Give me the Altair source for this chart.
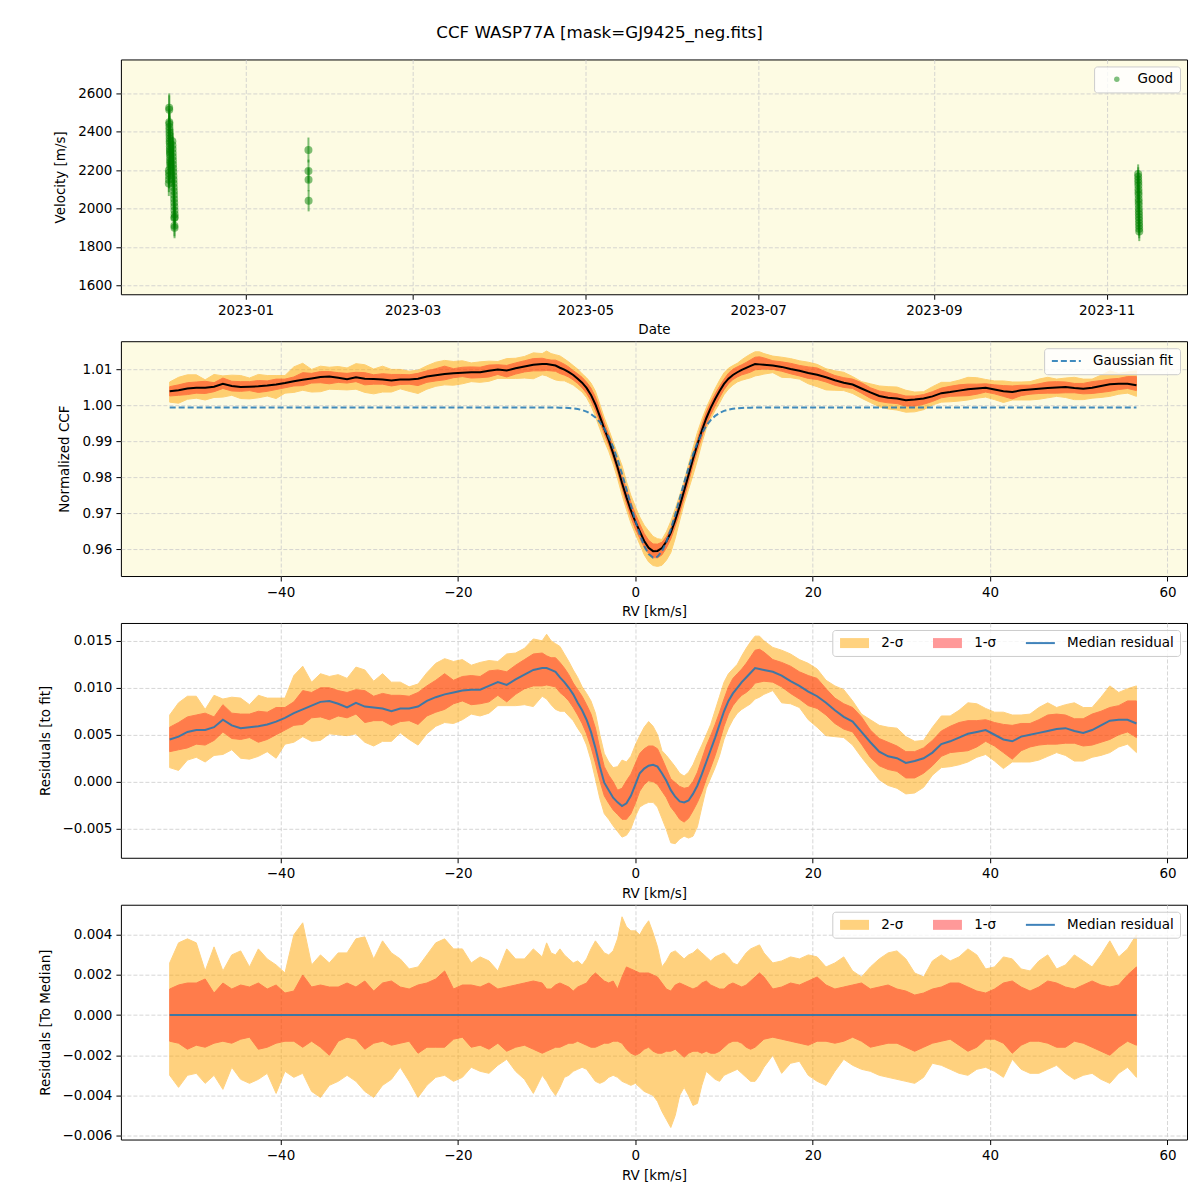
import altair as alt
import pandas as pd

FONT = "DejaVu Sans"

# ---------------- RV grid (km/s) ----------------
rv_left = [-52.5, -51.5, -50.5, -49.5, -48.5, -47.5, -46.5, -45.5, -44.5, -43.5,
           -42.5, -41.5, -40.5, -39.5, -38.5, -37.5, -36.5, -35.5, -34.5, -33.5,
           -32.5, -31.5, -30.5, -29.5, -28.5, -27.5, -26.5, -25.5, -24.5, -23.5,
           -22.5, -21.5, -20.5, -19.5, -18.5, -17.5, -16.5, -15.5, -14.5, -13.5,
           -12.5, -11.5, -10.5]
rv_dip = [-10, -9.5, -9, -8.5, -8, -7.5, -7, -6.5, -6, -5.5,
          -5, -4.5, -4, -3.5, -3, -2.5, -2, -1.5, -1, -0.5,
          0, 0.5, 1, 1.5, 2, 2.5, 3, 3.5, 4, 4.5,
          5, 5.5, 6, 6.5, 7, 7.5, 8, 8.5, 9, 9.5,
          10, 10.5, 11, 11.5, 12, 12.5, 13, 13.5, 14]
rv_right = [14.5, 15.5, 16.5, 17.5, 18.5, 19.5, 20.5, 21.5, 22.5, 23.5,
            24.5, 25.5, 26.5, 27.5, 28.5, 29.5, 30.5, 31.5, 32.5, 33.5,
            34.5, 35.5, 36.5, 37.5, 38.5, 39.5, 40.5, 41.5, 42.5, 43.5,
            44.5, 45.5, 46.5, 47.5, 48.5, 49.5, 50.5, 51.5, 52.5, 53.5,
            54.5, 55.5, 56.5]

# ---------------- median residual (CCF - fit) ----------------
res_left = [.0045, .0048, .0053, .0055, .0055, .0058, .0066, .0060, .0057, .0058,
            .0059, .0061, .0064, .0068, .0073, .0077, .0081, .0085, .0086, .0083,
            .0079, .0084, .0080, .0079, .0078, .0075, .0078, .0078, .0080, .0086,
            .0090, .0093, .0095, .0097, .0098, .0098, .0102, .0106, .0103, .0109,
            .0114, .0119, .0121]
res_dip = [.0121, .0119, .0117, .0111, .0106, .0100, .0093, .0084, .0076, .0066,
           .0053, .0036, .0016, -.0001, -.0009, -.0017, -.0022, -.0026, -.0023, -.0015,
           -.0003, .0009, .0014, .0017, .0018, .0016, .0009, .0001, -.0009, -.0016,
           -.0021, -.0022, -.0020, -.0013, -.0004, .0008, .0021, .0034, .0047, .0061,
           .0075, .0086, .0094, .0100, .0106, .0111, .0116, .0121, .0120]
res_right = [.0119, .0117, .0113, .0107, .0102, .0096, .0091, .0084, .0076, .0069,
             .0064, .0053, .0042, .0032, .0027, .0025, .0020, .0022, .0025, .0031,
             .0040, .0043, .0047, .0051, .0053, .0055, .0050, .0045, .0043, .0048,
             .0050, .0052, .0054, .0056, .0057, .0054, .0052, .0055, .0060, .0065,
             .0066, .0066, .0062]

# ---------------- Gaussian fit ----------------
fit_left = [.99936, .99936, .99936, .99936, .99936, .99936, .99936, .99936, .99936, .99936,
            .99936, .99936, .99936, .99936, .99936, .99936, .99936, .99936, .99936, .99936,
            .99936, .99936, .99936, .99936, .99936, .99936, .99936, .99936, .99936, .99936,
            .99936, .99936, .99936, .99936, .99936, .99936, .99936, .99936, .99936, .99936,
            .99936, .99936, .99936]
fit_dip = [.99936, .99935, .99934, .99932, .99929, .99922, .99912, .99894, .99866, .99822,
           .99756, .99661, .99528, .99350, .99119, .98832, .98488, .98095, .97667, .97223,
           .96791, .96401, .96083, .95863, .95762, .95787, .95938, .96199, .96550, .96961,
           .97401, .97841, .98257, .98632, .98954, .99218, .99428, .99587, .99703, .99786,
           .99842, .99879, .99902, .99917, .99925, .99930, .99933, .99935, .99936]
fit_right = [.99936, .99936, .99936, .99936, .99936, .99936, .99936, .99936, .99936, .99936,
             .99936, .99936, .99936, .99936, .99936, .99936, .99936, .99936, .99936, .99936,
             .99936, .99936, .99936, .99936, .99936, .99936, .99936, .99936, .99936, .99936,
             .99936, .99936, .99936, .99936, .99936, .99936, .99936, .99936, .99936, .99936,
             .99936, .99936, .99936]

# ---------------- band offsets relative to median (panel 4) ----------------
hi2_left = [.0026, .0036, .0038, .0036, .0022, .0034, .0022, .0030, .0032, .0024,
            .0033, .0028, .0025, .0021, .0040, .0046, .0025, .0030, .0026, .0031,
            .0031, .0038, .0039, .0028, .0037, .0031, .0028, .0023, .0024, .0030,
            .0036, .0038, .0033, .0033, .0026, .0029, .0027, .0022, .0033, .0028,
            .0028, .0033, .0029]
hi2_dip = [.0036, .0031, .0030, .0033, .0030, .0028, .0026, .0027, .0025, .0028,
           .0033, .0037, .0034, .0031, .0030, .0032, .0038, .0049, .0044, .0042,
           .0042, .0040, .0044, .0047, .0041, .0034, .0024, .0027, .0031, .0032,
           .0030, .0028, .0030, .0031, .0033, .0031, .0029, .0027, .0029, .0030,
           .0031, .0029, .0026, .0025, .0028, .0031, .0033, .0034, .0035]
hi2_right = [.0031, .0026, .0027, .0029, .0028, .0030, .0029, .0024, .0026, .0029,
             .0022, .0019, .0024, .0028, .0031, .0032, .0028, .0021, .0019, .0027,
             .0030, .0027, .0029, .0033, .0030, .0023, .0024, .0029, .0028, .0023,
             .0022, .0027, .0030, .0023, .0025, .0030, .0027, .0024, .0030, .0037,
             .0029, .0033, .0040]

hi1_left = [.0013, .0015, .0016, .0016, .0018, .0011, .0016, .0013, .0015, .0014,
            .0016, .0013, .0015, .0011, .0012, .0020, .0014, .0015, .0014, .0014,
            .0016, .0014, .0017, .0012, .0016, .0017, .0014, .0013, .0015, .0016,
            .0018, .0022, .0013, .0015, .0015, .0014, .0016, .0013, .0014, .0015,
            .0016, .0017, .0016]
hi1_dip = [.0013, .0013, .0015, .0016, .0015, .0014, .0012, .0014, .0015, .0016,
           .0019, .0021, .0019, .0017, .0016, .0017, .0013, .0019, .0024, .0023,
           .0022, .0021, .0021, .0021, .0020, .0019, .0016, .0013, .0012, .0015,
           .0016, .0015, .0014, .0013, .0014, .0016, .0017, .0015, .0014, .0013,
           .0013, .0015, .0016, .0015, .0014, .0015, .0017, .0019, .0021]
hi1_right = [.0019, .0013, .0014, .0016, .0015, .0017, .0019, .0015, .0013, .0014,
             .0015, .0016, .0013, .0014, .0015, .0013, .0012, .0010, .0011, .0013,
             .0014, .0016, .0016, .0014, .0012, .0011, .0013, .0016, .0017, .0014,
             .0012, .0014, .0017, .0016, .0014, .0013, .0015, .0017, .0015, .0014,
             .0015, .0020, .0024]

lo1_left = [-.0013, -.0014, -.0017, -.0015, -.0016, -.0014, -.0013, -.0014, -.0012, -.0011,
            -.0017, -.0016, -.0014, -.0013, -.0013, -.0016, -.0013, -.0016, -.0020, -.0013,
            -.0011, -.0012, -.0017, -.0014, -.0013, -.0015, -.0014, -.0013, -.0019, -.0016,
            -.0016, -.0016, -.0012, -.0011, -.0016, -.0015, -.0017, -.0014, -.0018, -.0016,
            -.0015, -.0017, -.0019]
lo1_dip = [-.0018, -.0017, -.0016, -.0016, -.0015, -.0014, -.0014, -.0013, -.0014, -.0015,
           -.0016, -.0016, -.0015, -.0014, -.0014, -.0013, -.0013, -.0014, -.0017, -.0019,
           -.0020, -.0019, -.0017, -.0016, -.0018, -.0019, -.0019, -.0018, -.0018, -.0017,
           -.0019, -.0021, -.0019, -.0018, -.0018, -.0019, -.0018, -.0019, -.0019, -.0018,
           -.0016, -.0014, -.0013, -.0013, -.0014, -.0016, -.0017, -.0016, -.0014]
lo1_right = [-.0012, -.0011, -.0012, -.0013, -.0014, -.0015, -.0013, -.0013, -.0014, -.0013,
             -.0011, -.0013, -.0016, -.0015, -.0014, -.0014, -.0016, -.0018, -.0016, -.0014,
             -.0013, -.0012, -.0015, -.0018, -.0016, -.0012, -.0012, -.0014, -.0019, -.0015,
             -.0013, -.0013, -.0014, -.0016, -.0016, -.0013, -.0014, -.0016, -.0018, -.0020,
             -.0016, -.0013, -.0015]

lo2_left = [-.0030, -.0036, -.0030, -.0029, -.0034, -.0030, -.0037, -.0026, -.0032, -.0034,
            -.0032, -.0029, -.0039, -.0028, -.0031, -.0029, -.0038, -.0041, -.0035, -.0033,
            -.0030, -.0033, -.0038, -.0041, -.0035, -.0032, -.0026, -.0033, -.0041, -.0035,
            -.0031, -.0030, -.0033, -.0031, -.0026, -.0028, -.0029, -.0025, -.0022, -.0028,
            -.0032, -.0039, -.0030]
lo2_dip = [-.0033, -.0037, -.0040, -.0036, -.0031, -.0030, -.0028, -.0027, -.0026, -.0027,
           -.0030, -.0033, -.0034, -.0033, -.0031, -.0030, -.0031, -.0033, -.0034, -.0035,
           -.0034, -.0036, -.0038, -.0039, -.0040, -.0043, -.0048, -.0052, -.0056, -.0050,
           -.0040, -.0036, -.0040, -.0045, -.0044, -.0035, -.0028, -.0030, -.0032, -.0033,
           -.0030, -.0029, -.0028, -.0027, -.0029, -.0031, -.0033, -.0033, -.0030]
lo2_right = [-.0026, -.0020, -.0029, -.0024, -.0023, -.0030, -.0033, -.0035, -.0028, -.0022,
             -.0025, -.0027, -.0028, -.0030, -.0031, -.0032, -.0033, -.0034, -.0031, -.0024,
             -.0025, -.0027, -.0029, -.0030, -.0027, -.0026, -.0028, -.0031, -.0022, -.0027,
             -.0029, -.0029, -.0027, -.0025, -.0029, -.0032, -.0030, -.0029, -.0032, -.0034,
             -.0029, -.0026, -.0031]

# ---------------- RV time series (panel 1) ----------------
obs_time = [
    "2022-12-05T01:00", "2022-12-05T01:30", "2022-12-05T02:00", "2022-12-05T02:30",
    "2022-12-05T03:00", "2022-12-05T03:30", "2022-12-05T04:00", "2022-12-05T04:30",
    "2022-12-05T05:00", "2022-12-05T05:30", "2022-12-05T06:00", "2022-12-05T06:30",
    "2022-12-05T07:00", "2022-12-05T07:30", "2022-12-05T08:00", "2022-12-05T08:30",
    "2022-12-05T09:00", "2022-12-05T09:30", "2022-12-05T10:00", "2022-12-05T10:30",
    "2022-12-05T11:00", "2022-12-04T23:00", "2022-12-04T23:30", "2022-12-05T00:00",
    "2022-12-04T22:30", "2022-12-04T22:00",
    "2022-12-06T04:00", "2022-12-06T05:00", "2022-12-06T06:00", "2022-12-06T07:00",
    "2022-12-06T08:00", "2022-12-06T09:00", "2022-12-06T10:00", "2022-12-06T11:00",
    "2022-12-06T12:00", "2022-12-06T13:00", "2022-12-06T14:00", "2022-12-06T15:00",
    "2022-12-06T16:00", "2022-12-06T17:00", "2022-12-06T18:00", "2022-12-06T19:00",
    "2022-12-06T20:00", "2022-12-06T21:00", "2022-12-06T22:00", "2022-12-06T23:00",
    "2022-12-07T00:00", "2022-12-06T20:30", "2022-12-06T21:30", "2022-12-06T22:30",
    "2023-01-23T05:00", "2023-01-23T05:30", "2023-01-23T06:00", "2023-01-23T06:30",
    "2023-11-12T03:00", "2023-11-12T03:30", "2023-11-12T04:00", "2023-11-12T04:30",
    "2023-11-12T05:00", "2023-11-12T05:30", "2023-11-12T06:00", "2023-11-12T06:30",
    "2023-11-12T07:00", "2023-11-12T07:30", "2023-11-12T08:00", "2023-11-12T08:30",
    "2023-11-12T09:00", "2023-11-12T09:30", "2023-11-12T10:00", "2023-11-12T10:30",
    "2023-11-12T11:00", "2023-11-12T11:30", "2023-11-12T12:00", "2023-11-12T12:30",
]
obs_vel = [
    2525, 2515, 2450, 2440, 2425, 2410, 2395, 2380, 2365, 2350, 2340, 2325, 2310,
    2300, 2290, 2280, 2265, 2250, 2240, 2230, 2215, 2200, 2185, 2170, 2150, 2130,
    2350, 2330, 2310, 2290, 2270, 2250, 2230, 2210, 2190, 2170, 2150, 2130, 2110,
    2090, 2070, 2050, 2030, 2010, 1990, 1970, 1955, 1950, 1910, 1900,
    2305, 2195, 2150, 2040,
    2180, 2165, 2150, 2135, 2120, 2100, 2085, 2070, 2050, 2035, 2020, 2000, 1985,
    1970, 1955, 1940, 1925, 1910, 1895, 1880,
]
obs_err = [
    75, 75, 70, 70, 70, 70, 65, 65, 65, 65, 65, 65, 65, 65, 65, 65, 65, 65, 65, 65,
    65, 65, 65, 65, 65, 65,
    65, 65, 65, 65, 65, 65, 65, 65, 65, 60, 60, 60, 60, 60, 60, 60, 60, 55, 55, 55,
    55, 55, 55, 55,
    65, 60, 60, 55,
    50, 50, 50, 50, 50, 50, 50, 50, 50, 50, 50, 50, 50, 50, 50, 50, 50, 50, 50, 50,
]

leg_names = ["2-σ", "1-σ", "Median residual"]
leg_colors = ["#FFD27F", "#FF9999", "#3F82BA"]
leg_shapes = ["M-2.9,-1L2.9,-1L2.9,1L-2.9,1Z",
              "M-2.9,-1L2.9,-1L2.9,1L-2.9,1Z",
              "M-2.9,-0.2L2.9,-0.2L2.9,0.2L-2.9,0.2Z"]

# ---------------- tables ----------------
rv = rv_left + rv_dip + rv_right
df = pd.DataFrame({
    "rv": rv,
    "res": res_left + res_dip + res_right,
    "fit": fit_left + fit_dip + fit_right,
    "u2": hi2_left + hi2_dip + hi2_right,
    "u1": hi1_left + hi1_dip + hi1_right,
    "l1": lo1_left + lo1_dip + lo1_right,
    "l2": lo2_left + lo2_dip + lo2_right,
})
df["ccf"] = df["fit"] + df["res"]
for base_col in ["ccf", "res"]:
    for o in ["u2", "u1", "l1", "l2"]:
        df[f"{base_col}_{o}"] = df[base_col] + df[o]
df["zero"] = df["res"] - df["res"]
df["lab"] = "Gaussian fit"

obs = pd.DataFrame({"t": obs_time, "v": obs_vel, "e": obs_err})
obs["lo"] = obs["v"] - obs["e"]
obs["hi"] = obs["v"] + obs["e"]
obs["status"] = "Good"

W, H = 1067, 235
BLUE = "#1f77b4"
FS = 13.5

# ---------------- panel 1 ----------------
xdate = alt.X(
    "t:T",
    scale=alt.Scale(domain=[alt.DateTime(year=2022, month=11, date=18),
                            alt.DateTime(year=2023, month=11, date=29, hours=9)]),
    axis=alt.Axis(values=[alt.DateTime(year=2023, month=m, date=1) for m in [1, 3, 5, 7, 9, 11]],
                  format="%Y-%m", title="Date"),
)
ys1 = alt.Scale(domain=[1553, 2777], nice=False, zero=False)
yax1 = alt.Axis(values=[1600, 1800, 2000, 2200, 2400, 2600], format="d", title="Velocity [m/s]")

p1_err = alt.Chart(obs).mark_rule(color="green", opacity=0.5, strokeWidth=2).encode(
    x=xdate, y=alt.Y("lo:Q", scale=ys1, axis=yax1), y2="hi:Q")
p1_pts = alt.Chart(obs).mark_circle(size=64, opacity=0.5).encode(
    x=xdate, y=alt.Y("v:Q", scale=ys1, axis=yax1),
    color=alt.Color("status:N", scale=alt.Scale(domain=["Good"], range=["green"]),
                    legend=alt.Legend(title=None, symbolType="circle", symbolSize=30,
                                      symbolOffset=10, labelOffset=14, symbolOpacity=0.5)))
p1 = alt.layer(p1_err, p1_pts).properties(width=W, height=H)

# ---------------- shared RV x ----------------
xs_rv = alt.Scale(domain=[-58.0, 62.2], nice=False, zero=False)
x_rv = alt.X("rv:Q", scale=xs_rv,
             axis=alt.Axis(values=[-40, -20, 0, 20, 40, 60], format="d", title="RV [km/s]"))

base = alt.Chart(df)

# ---------------- panel 2 ----------------
ys2 = alt.Scale(domain=[0.9525, 1.0178], nice=False, zero=False)
yax2 = alt.Axis(values=[0.96, 0.97, 0.98, 0.99, 1.00, 1.01], format=".2f", title="Normalized CCF")
p2_b2 = base.mark_area(color="orange", opacity=0.5, stroke="orange", strokeWidth=1).encode(
    x=x_rv, y=alt.Y("ccf_l2:Q", scale=ys2, axis=yax2), y2="ccf_u2:Q")
p2_b1 = base.mark_area(color="red", opacity=0.4, stroke="red", strokeWidth=1).encode(
    x=x_rv, y=alt.Y("ccf_l1:Q", scale=ys2, axis=yax2), y2="ccf_u1:Q")
p2_med = base.mark_line(color="black", strokeWidth=2).encode(
    x=x_rv, y=alt.Y("ccf:Q", scale=ys2, axis=yax2))
leg_fit = alt.Legend(title=None, symbolType="M-2.9,0L2.9,0", symbolSize=100, symbolStrokeWidth=2,
                     symbolOffset=9.5, labelOffset=20)
p2_fit = base.mark_line(strokeWidth=2, opacity=0.85).encode(
    x=x_rv, y=alt.Y("fit:Q", scale=ys2, axis=yax2),
    stroke=alt.Stroke("lab:N", scale=alt.Scale(domain=["Gaussian fit"], range=[BLUE]), legend=leg_fit),
    strokeDash=alt.StrokeDash("lab:N", scale=alt.Scale(domain=["Gaussian fit"], range=[[6, 3]]),
                              legend=leg_fit))
p2 = alt.layer(p2_b2, p2_b1, p2_med, p2_fit).properties(width=W, height=H)


def legend_carrier():
    lg = alt.Legend(title=None, direction="horizontal", columns=3, symbolSize=100,
                    symbolOffset=9.5, labelOffset=20, columnPadding=27, symbolOpacity=1,
                    symbolStrokeWidth=0)
    return alt.Chart(pd.DataFrame({"series": leg_names})).transform_filter("false").mark_point(
        filled=True, opacity=1).encode(
        color=alt.Color("series:N", scale=alt.Scale(domain=leg_names, range=leg_colors), legend=lg),
        shape=alt.Shape("series:N", scale=alt.Scale(domain=leg_names, range=leg_shapes), legend=lg))


# ---------------- panel 3 ----------------
ys3 = alt.Scale(domain=[-0.0081, 0.0169], nice=False, zero=False)
yax3 = alt.Axis(values=[-0.005, 0.0, 0.005, 0.010, 0.015], format=".3f", title="Residuals [to fit]")
p3 = alt.layer(
    base.mark_area(color="orange", opacity=0.5, stroke="orange", strokeWidth=1).encode(
        x=x_rv, y=alt.Y("res_l2:Q", scale=ys3, axis=yax3), y2="res_u2:Q"),
    base.mark_area(color="red", opacity=0.4, stroke="red", strokeWidth=1).encode(
        x=x_rv, y=alt.Y("res_l1:Q", scale=ys3, axis=yax3), y2="res_u1:Q"),
    base.mark_line(color=BLUE, strokeWidth=2, opacity=0.85).encode(
        x=x_rv, y=alt.Y("res:Q", scale=ys3, axis=yax3)),
    legend_carrier(),
).properties(width=W, height=H)

# ---------------- panel 4 ----------------
ys4 = alt.Scale(domain=[-0.0062, 0.0055], nice=False, zero=False)
yax4 = alt.Axis(values=[-0.006, -0.004, -0.002, 0.0, 0.002, 0.004], format=".3f",
                title="Residuals [To Median]")
p4 = alt.layer(
    base.mark_area(color="orange", opacity=0.5, stroke="orange", strokeWidth=1).encode(
        x=x_rv, y=alt.Y("l2:Q", scale=ys4, axis=yax4), y2="u2:Q"),
    base.mark_area(color="red", opacity=0.4, stroke="red", strokeWidth=1).encode(
        x=x_rv, y=alt.Y("l1:Q", scale=ys4, axis=yax4), y2="u1:Q"),
    base.mark_line(color=BLUE, strokeWidth=2, opacity=0.85).encode(
        x=x_rv, y=alt.Y("zero:Q", scale=ys4, axis=yax4)),
    legend_carrier(),
).properties(width=W, height=H)

chart = alt.vconcat(p1, p2, p3, p4, spacing=3).resolve_scale(
    color="independent", shape="independent", stroke="independent", strokeDash="independent"
).resolve_legend(
    color="independent", shape="independent", stroke="independent", strokeDash="independent"
).properties(
    title=alt.TitleParams(text="CCF WASP77A [mask=GJ9425_neg.fits]", fontSize=16.7, font=FONT,
                          fontWeight="normal", anchor="middle", offset=17, dx=-13, color="black"),
    padding={"left": 29, "top": 16, "right": 4, "bottom": 4},
).configure_view(
    fill="#FDFBE3", stroke="black", strokeWidth=1
).configure_axis(
    labelFont=FONT, titleFont=FONT, labelFontSize=FS, titleFontSize=FS, titleFontWeight="normal",
    labelColor="black", titleColor="black", tickColor="black", tickSize=5, tickWidth=1,
    labelPadding=4, domain=False, grid=True, gridColor="#cccccc", gridDash=[4, 2],
    gridWidth=0.8, labelFlush=False, zindex=1
).configure_axisX(titlePadding=6).configure_axisY(titlePadding=10).configure_legend(
    orient="top-right", offset=7, fillColor="rgba(255,255,255,0.8)", strokeColor="#cccccc",
    cornerRadius=3, padding=6, labelFont=FONT, labelFontSize=FS, labelColor="black"
)

chart.save("out.html", embed_options={"renderer": "svg", "actions": False})
